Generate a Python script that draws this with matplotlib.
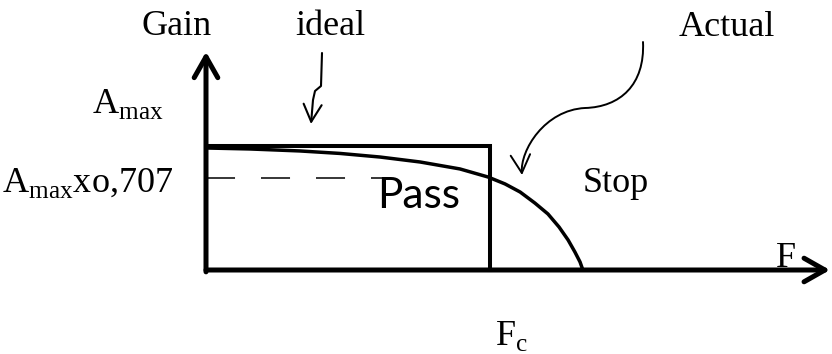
import matplotlib
matplotlib.use("Agg")
import matplotlib.pyplot as plt
from matplotlib.patches import FancyArrowPatch
from matplotlib.path import Path
from matplotlib.transforms import Affine2D

# ---- data (normalised: f in units of Fc, gain in units of Amax) ----
ideal_f = [0.0, 1.0, 1.0]
ideal_gain = [1.0, 1.0, 0.0]
actual_f = [0.0, 0.155, 0.331, 0.472, 0.613, 0.754, 0.894, 0.993, 1.053, 1.106,
            1.158, 1.204, 1.243, 1.275, 1.299, 1.317, 1.327]
actual_gain = [0.984, 0.976, 0.960, 0.940, 0.911, 0.871, 0.815, 0.750, 0.694, 0.629,
               0.540, 0.452, 0.347, 0.242, 0.145, 0.065, 0.0]
half_power_f = [0.0, 0.623]
half_power_gain = [0.742, 0.742]
f_axis_end = 2.197
gain_axis_end = 1.76

W, H = 832, 354
fig = plt.figure(figsize=(W / 100, H / 100), dpi=100)
ax = fig.add_axes([0, 0, 1, 1])
# origin at pixel (206, 270); Fc -> 284 px, Amax -> 124 px
ax.set_xlim(-206 / 284, (W - 206) / 284)
ax.set_ylim(-(H - 270) / 124, 270 / 124)
ax.axis("off")

pix = Affine2D().scale(1 / W, -1 / H).translate(0, 1) + fig.transFigure

# axes with arrows
ax.annotate("", xy=(0, gain_axis_end), xytext=(0, -0.015),
            arrowprops=dict(arrowstyle="->,head_length=1.5,head_width=0.85",
                            lw=3.6, color="black", shrinkA=0, shrinkB=0,
                            mutation_scale=10))
ax.annotate("", xy=(f_axis_end, 0), xytext=(0, 0),
            arrowprops=dict(arrowstyle="->,head_length=1.5,head_width=0.85",
                            lw=3.6, color="black", shrinkA=0, shrinkB=0,
                            mutation_scale=10))

# ideal response
ax.plot(ideal_f, ideal_gain, color="black", lw=2.9, solid_joinstyle="miter")
# actual response
ax.plot(actual_f, actual_gain, color="black", lw=2.5, solid_capstyle="round",
        solid_joinstyle="round")
# -3 dB dashed line
ax.plot(half_power_f, half_power_gain, color="black", lw=1.1,
        dashes=(19, 17))

# curvy annotation arrows (pixel coordinates)
ideal_path = Path([(322, 53), (321, 86), (315, 91), (313, 100), (311, 124)],
                  [Path.MOVETO] + [Path.LINETO] * 4)
fig.patches.append(FancyArrowPatch(path=ideal_path, transform=pix,
                                   arrowstyle="->,head_length=1.25,head_width=0.65",
                                   mutation_scale=10, lw=1.5, color="black"))
actual_path = Path([(643, 42), (645, 85), (620, 107), (585, 108),
                    (545, 110), (520, 150), (522, 175)],
                   [Path.MOVETO] + [Path.CURVE4] * 6)
fig.patches.append(FancyArrowPatch(path=actual_path, transform=pix,
                                   arrowstyle="->,head_length=1.3,head_width=0.7",
                                   mutation_scale=10, lw=1.4, color="black"))

plt.rcParams["mathtext.fontset"] = "custom"
plt.rcParams["mathtext.rm"] = "Liberation Serif"
serif = dict(family="Liberation Serif", fontsize=26, transform=pix, color="black")

fig.text(177, 35, "Gain", ha="center", va="baseline", **serif)
fig.text(330, 35, "ideal", ha="center", va="baseline", **serif)
fig.text(727, 36, "Actual", ha="center", va="baseline", **serif)
fig.text(164, 113, r"A$_{\mathrm{max}}$", ha="right", va="baseline", **serif)
fig.text(173, 192, r"A$_{\mathrm{max}}$xo,707", ha="right", va="baseline", **serif)
fig.text(616, 192, "Stop", ha="center", va="baseline", **serif)
fig.text(786, 267, "F", ha="center", va="baseline", **serif)
fig.text(495, 345, r"F$_{\mathrm{c}}$", ha="left", va="baseline", **serif)
fig.text(419, 208, "Pass", ha="center", va="baseline", family="Lato",
         fontsize=30.5, transform=pix, color="black")

fig.savefig("out.png", dpi=100)
